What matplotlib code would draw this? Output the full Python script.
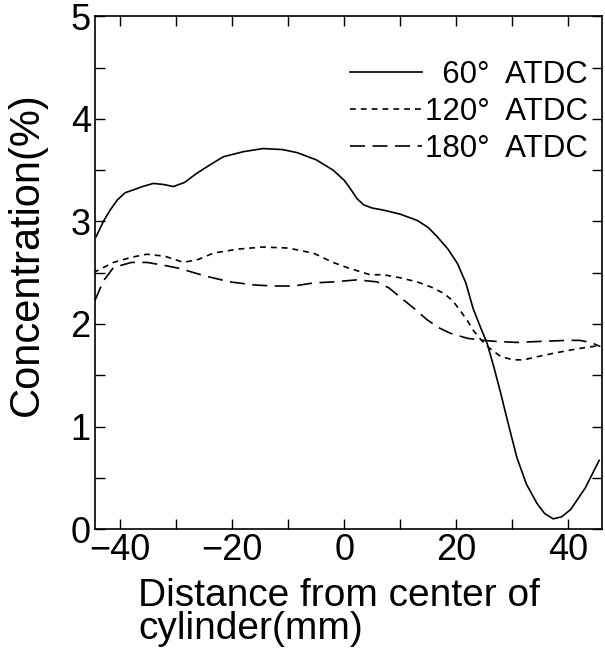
import matplotlib.pyplot as plt

plt.rcParams['font.family'] = ['Liberation Sans', 'DejaVu Sans']

# 60 deg ATDC (solid)
x60 = [-44.3, -43, -41.8, -40.5, -39.1, -37.5, -36, -34.1, -32.3, -30.5, -28.5, -26.3, -24, -21.6,
       -18, -14.5, -11, -8.4, -5, -2, 0, 1.2, 2.3, 3.5, 5, 7, 10, 13, 15, 16.6, 18.5, 20.2, 21.7,
       23, 24.3, 25.5, 26.7, 27.9, 29.3, 30.8, 32.5, 34.4, 35.8, 37.3, 38.8, 40.4, 43, 45.5]
y60 = [2.85, 3.0, 3.11, 3.21, 3.28, 3.31, 3.34, 3.37, 3.36, 3.34, 3.38, 3.47, 3.55, 3.63,
       3.68, 3.71, 3.70, 3.67, 3.60, 3.50, 3.40, 3.31, 3.22, 3.16, 3.13, 3.11, 3.07, 3.01, 2.94,
       2.85, 2.73, 2.59, 2.40, 2.15, 1.97, 1.81, 1.58, 1.33, 1.02, 0.70, 0.44, 0.25, 0.15, 0.10,
       0.12, 0.19, 0.40, 0.67]

# 120 deg ATDC (dotted)
x120 = [-44.8, -41.2, -38, -35.2, -32, -28.7, -26, -23.4, -19, -14.5, -10, -5.5, -2, 0.5, 4.6,
        7, 10, 13, 15.5, 17.7, 19.3, 20.7, 22, 23, 24.5, 26, 28, 30.2, 32, 34.4, 37, 39.8, 43, 45.7]
y120 = [2.50, 2.60, 2.65, 2.68, 2.66, 2.60, 2.63, 2.69, 2.73, 2.75, 2.74, 2.69, 2.60, 2.55, 2.48,
        2.48, 2.45, 2.41, 2.36, 2.30, 2.23, 2.13, 2.03, 1.94, 1.84, 1.76, 1.68, 1.65, 1.65, 1.68,
        1.71, 1.74, 1.77, 1.79]

# 180 deg ATDC (dashed)
x180 = [-44.5, -43, -41.2, -38, -35.2, -32, -29.3, -25, -20.4, -16, -12.7, -9, -5.5, -2, 2.3, 5.9,
        8, 10, 12.5, 14.8, 17, 18.9, 22, 24.8, 27, 30.8, 35, 39.8, 42, 44, 45.7]
y180 = [2.23, 2.42, 2.55, 2.60, 2.60, 2.57, 2.54, 2.47, 2.41, 2.38, 2.37, 2.37, 2.40, 2.41, 2.43,
        2.41, 2.35, 2.26, 2.15, 2.04, 1.96, 1.91, 1.86, 1.84, 1.83, 1.82, 1.83, 1.84, 1.84, 1.82,
        1.78]

labels = ['  60°  ATDC', '120°  ATDC', '180°  ATDC']

fig = plt.figure(figsize=(6.05, 6.5), dpi=100)
ax = fig.add_axes([0.157, 0.186, 0.838, 0.789])

ax.plot(x60, y60, color='black', lw=1.2, label=labels[0])
ax.plot(x120, y120, color='black', lw=1.2, dashes=(3.5, 3), label=labels[1])
ax.plot(x180, y180, color='black', lw=1.2, dashes=(9, 4.5), label=labels[2])

ax.set_xlim(-44.5, 46)
ax.set_ylim(0, 5)

xt = list(range(-40, 41, 10))
ax.set_xticks(xt)
ax.set_xticklabels([str(v).replace('-', '\u2212') if v % 20 == 0 else '' for v in xt])
yt = [i * 0.5 for i in range(11)]
ax.set_yticks(yt)
ax.set_yticklabels([str(int(v)) if v == int(v) else '' for v in yt])

ax.tick_params(direction='in', length=7, width=1, top=True, right=True,
               labelsize=26, pad=3)
for s in ax.spines.values():
    s.set_linewidth(1.2)

fig.text(27 / 605, 1 - 254 / 650, 'Concentration(%)', fontsize=30, rotation=90,
         ha='center', va='center')
fig.text(138 / 605, 1 - 578 / 650, 'Distance from center of\ncylinder(mm)', fontsize=28,
         ha='left', va='top', linespacing=0.9)

leg = ax.legend(loc='upper left', bbox_to_anchor=(350 / 605, 1 - 60 / 650),
                bbox_transform=fig.transFigure, frameon=False,
                fontsize=22.5, handlelength=2.3, handletextpad=0.1, labelspacing=0.22,
                borderpad=0, borderaxespad=0)

fig.savefig('out.png', dpi=100)
